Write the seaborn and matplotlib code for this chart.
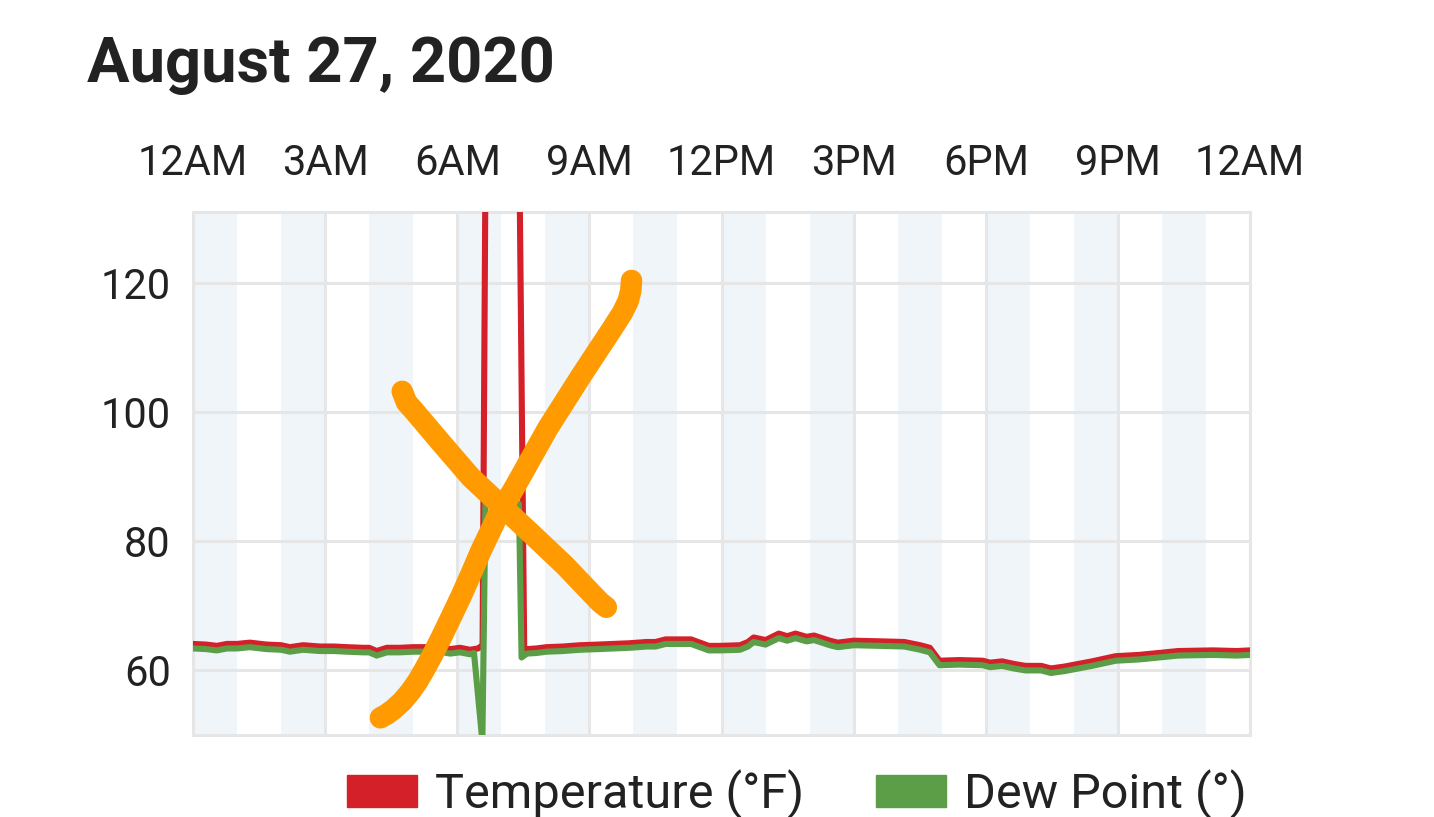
import pandas as pd
import numpy as np
import matplotlib.pyplot as plt
import seaborn as sns
from matplotlib.patches import Patch

# -----------------------------------
# Data (hours since midnight)
temp_hours = [0.0, 0.3, 0.54, 0.77, 1.0, 1.29, 1.67, 2.0, 2.2, 2.5, 2.88, 3.2, 3.49, 3.86,
              4.0, 4.17, 4.4, 4.7, 5.0, 5.3, 5.6, 5.84, 6.06, 6.29, 6.47, 6.575, 6.66,
              7.38, 7.52, 7.58, 7.8, 8.03, 8.4, 8.79, 9.2, 9.54, 9.9, 10.3, 10.5, 10.73,
              11.0, 11.31, 11.71, 11.97, 12.42, 12.6, 12.73, 13.0, 13.3, 13.49, 13.68,
              13.93, 14.1, 14.46, 14.64, 15.0, 15.62, 16.15, 16.51, 16.73, 16.95, 17.39,
              17.93, 18.1, 18.37, 18.64, 18.9, 19.26, 19.48, 19.79, 20.41, 20.95, 21.48,
              21.93, 22.37, 23.16, 23.7, 24.0]
temp_vals = [64.1, 64.0, 63.8, 64.1, 64.1, 64.3, 64.0, 63.9, 63.6, 63.9, 63.7, 63.7, 63.6, 63.5,
             63.5, 63.0, 63.5, 63.5, 63.6, 63.6, 63.6, 63.3, 63.5, 63.2, 63.4, 63.9, 160.0,
             160.0, 63.3, 63.3, 63.4, 63.6, 63.7, 63.9, 64.0, 64.1, 64.2, 64.4, 64.4, 64.8,
             64.8, 64.8, 63.8, 63.8, 63.9, 64.4, 65.1, 64.7, 65.7, 65.3, 65.7,
             65.2, 65.4, 64.6, 64.3, 64.6, 64.5, 64.4, 63.9, 63.5, 61.5, 61.6,
             61.5, 61.2, 61.4, 61.0, 60.7, 60.7, 60.3, 60.6, 61.4, 62.2, 62.4,
             62.7, 63.0, 63.1, 63.0, 63.1]

dew_hours = [0.0, 0.3, 0.54, 0.77, 1.0, 1.29, 1.67, 2.0, 2.2, 2.5, 2.88, 3.2, 3.49, 3.86,
             4.0, 4.17, 4.4, 4.7, 5.0, 5.3, 5.6, 5.84, 6.06, 6.29, 6.38, 6.57, 6.64,
             7.40, 7.46, 7.58, 7.8, 8.03, 8.4, 8.79, 9.2, 9.54, 9.9, 10.3, 10.5, 10.73,
             11.0, 11.31, 11.71, 11.97, 12.42, 12.6, 12.73, 13.0, 13.3, 13.49, 13.68,
             13.93, 14.1, 14.46, 14.64, 15.0, 15.62, 16.15, 16.51, 16.73, 16.95, 17.39,
             17.93, 18.1, 18.37, 18.64, 18.9, 19.26, 19.48, 19.79, 20.41, 20.95, 21.48,
             21.93, 22.37, 23.16, 23.7, 24.0]
dew_vals = [63.4, 63.3, 63.1, 63.4, 63.4, 63.6, 63.3, 63.2, 62.9, 63.2, 63.0, 63.0, 62.9, 62.8,
            62.8, 62.3, 62.8, 62.8, 62.9, 62.9, 62.9, 62.6, 62.8, 62.5, 62.7, 49.0, 85.8,
            85.8, 62.0, 62.6, 62.7, 62.9, 63.0, 63.2, 63.3, 63.4, 63.5, 63.7, 63.7, 64.1,
            64.1, 64.1, 63.1, 63.1, 63.2, 63.7, 64.4, 64.0, 65.0, 64.6, 65.0,
            64.5, 64.7, 63.9, 63.6, 63.9, 63.8, 63.7, 63.2, 62.8, 60.8, 60.9,
            60.8, 60.5, 60.7, 60.3, 60.0, 60.0, 59.6, 59.9, 60.7, 61.5, 61.7,
            62.0, 62.3, 62.4, 62.3, 62.4]

tick_hours = [0, 3, 6, 9, 12, 15, 18, 21, 24]
tick_labels = ["12AM", "3AM", "6AM", "9AM", "12PM", "3PM", "6PM", "9PM", "12AM"]
y_ticks = [60, 80, 100, 120]

# the orange hand-drawn X on top of the chart
scribble_a_x = [4.255, 4.40, 4.56, 4.75, 4.941, 5.10, 5.245, 5.43, 5.624, 5.85, 6.081, 6.31,
                6.535, 6.916, 7.296, 8.056, 8.817, 9.5, 9.75, 9.88, 9.94, 9.957]
scribble_a_y = [52.66, 53.2, 54.02, 55.2, 56.75, 58.3, 60.0, 62.3, 64.9, 68.1, 71.41, 74.9,
                78.49, 83.93, 88.27, 97.51, 105.67, 112.74, 115.4, 117.2, 118.8, 120.4]
scribble_b_x = [4.75, 4.85, 5.016, 5.624, 6.308, 6.991, 7.675, 8.435, 9.044, 9.25, 9.385]
scribble_b_y = [103.22, 101.5, 100.23, 95.33, 89.91, 85.55, 81.21, 76.31, 71.96, 70.5, 69.78]

series = ["Temperature (°F)", "Dew Point (°)"]
colors = {"Temperature (°F)": "#d32029", "Dew Point (°)": "#5b9e47"}

df = pd.concat([
    pd.DataFrame({"hour": temp_hours, "value": temp_vals, "series": series[0]}),
    pd.DataFrame({"hour": dew_hours, "value": dew_vals, "series": series[1]}),
])

# -----------------------------------
# Plot
sns.set_style("white")
plt.rcParams["font.family"] = ["Roboto", "DejaVu Sans"]

fig = plt.figure(figsize=(14.34, 8.17), dpi=100)
ax = fig.add_axes([0.1346, 0.1004, 0.7371, 0.6401])

# alternating hour bands
for h in range(0, 24, 2):
    ax.axvspan(h, h + 1, color="#f0f5fa", zorder=0, lw=0)

sns.lineplot(data=df, x="hour", y="value", hue="series", hue_order=series,
             palette=colors, estimator=None, sort=False,
             legend=False, ax=ax, zorder=3)
for line in ax.lines:
    line.set_linewidth(4.4)
    line.set_solid_joinstyle("round")

ax.plot(scribble_a_x, scribble_a_y, color="#ff9a00", lw=15.5, solid_capstyle="round",
        solid_joinstyle="round", zorder=5)
ax.plot(scribble_b_x, scribble_b_y, color="#ff9a00", lw=15.5, solid_capstyle="round",
        solid_joinstyle="round", zorder=5)

ax.set_xlim(0, 24)
ax.set_ylim(50, 131)
ax.set_xticks(tick_hours)
ax.set_xticklabels(tick_labels)
ax.set_yticks(y_ticks)
ax.xaxis.tick_top()
ax.tick_params(axis="x", length=0, pad=20, labelsize=30, labelcolor="#222222")
ax.tick_params(axis="y", length=0, pad=16, labelsize=30, labelcolor="#222222")
ax.grid(True, color="#e6e6e6", lw=2.2, zorder=1)
ax.set_axisbelow(True)
for sp in ax.spines.values():
    sp.set_color("#e6e6e6")
    sp.set_linewidth(2.2)
ax.set_xlabel("")
ax.set_ylabel("")

fig.text(0.061, 0.9, "August 27, 2020", fontsize=45.5, fontweight="bold",
         color="#222222", va="baseline")

handles = [Patch(color=colors[s], label=s) for s in series]
fig.legend(handles=handles, loc="center", bbox_to_anchor=(0.556, 0.028), ncol=2,
           frameon=False, fontsize=35, handlelength=1.44, handleheight=0.66,
           handletextpad=0.37, columnspacing=1.48, labelcolor="#222222")

fig.savefig("out.png", dpi=100)
